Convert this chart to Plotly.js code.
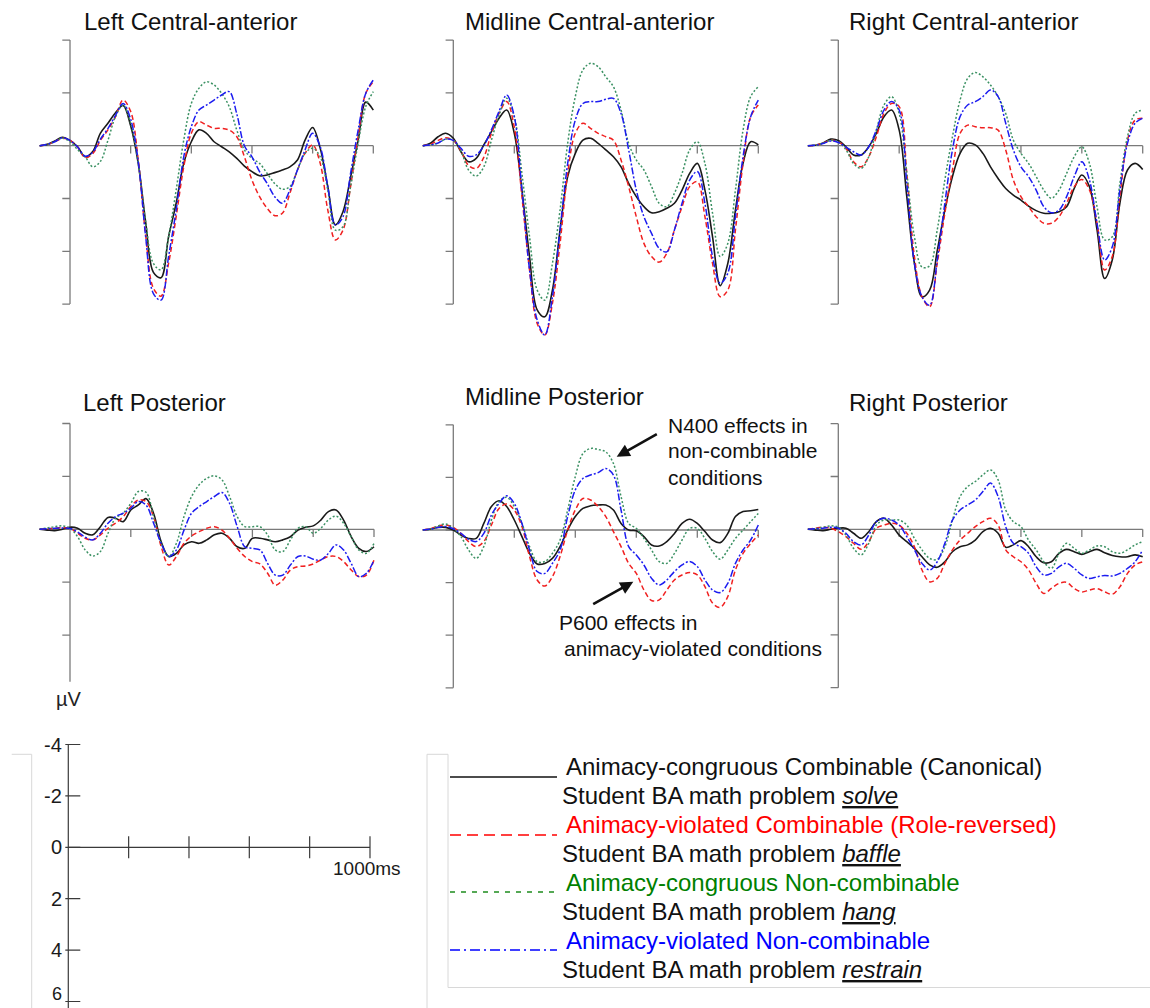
<!DOCTYPE html>
<html><head><meta charset="utf-8">
<script src="https://cdn.plot.ly/plotly-3.0.1.min.js"></script>
<style>html,body{margin:0;padding:0;background:#fff;} #chart{width:1150px;height:1008px;}</style>
</head><body><div id="chart"></div>
<script>
// ---------------- DATA ----------------
const times = [-100,-75,-50,-25,0,25,50,75,100,125,150,175,200,225,250,275,300,325,350,375,400,425,450,475,500,525,550,575,600,625,650,675,700,725,750,775,800,825,850,875,900,925,950,975,1000];

const conditionNames = ['Animacy-congruous Combinable (Canonical)','Animacy-violated Combinable (Role-reversed)','Animacy-congruous Non-combinable','Animacy-violated Non-combinable'];
const exampleSentences = ['Student BA math problem ','Student BA math problem ','Student BA math problem ','Student BA math problem '];
const exampleVerbs = ['solve','baffle','hang','restrain'];
const panelTitles = ['Left Central-anterior','Midline Central-anterior','Right Central-anterior','Left Posterior','Midline Posterior','Right Posterior'];
const yTickVals = [-4,-2,0,2,4,6];
const xTickVals = [200,400,600,800,1000];
const scaleTickLabels = ['-4','-2','0','2','4','6'];
const scaleTimeLabel = '1000ms';
const unitLabel = 'µV';

// Left Central-anterior
const lcaCanonical   = [0,-0.05,-0.18,-0.32,-0.2,0.04,0.42,0.22,-0.47,-0.85,-1.25,-1.52,-0.75,0.67,2.94,4.8,5.0,3.45,2.18,0.67,-0.15,-0.6,-0.47,-0.15,0.04,0.23,0.48,0.77,0.98,1.14,1.11,1.02,0.92,0.8,0.54,-0.21,-0.69,0.1,1.55,3.0,2.5,1.2,-0.2,-1.65,-1.35];
const lcaRoleRev     = [0,-0.05,-0.15,-0.28,-0.2,0.05,0.45,0.3,-0.2,-0.6,-1.1,-1.73,-1.3,0.54,3.45,5.4,5.7,4.46,2.69,0.8,-0.47,-0.91,-0.78,-0.66,-0.66,-0.59,-0.34,0.42,1.3,1.93,2.37,2.65,2.56,1.8,0.92,0.29,-0.03,0.67,2.44,3.57,3.2,1.55,-0.34,-1.98,-2.42];
const lcaNonCombCong = [0,-0.05,-0.15,-0.28,-0.15,0.15,0.42,0.8,0.6,-0.2,-1.1,-1.54,-0.85,0.67,2.94,4.46,4.7,3.45,1.68,-0.21,-1.6,-2.17,-2.42,-2.3,-1.98,-1.48,-0.59,0.16,0.48,0.67,1.05,1.43,1.65,1.55,0.92,0.29,0.1,0.42,1.68,3.2,3.07,1.55,-0.09,-1.48,-2.05];
const lcaNonCombViol = [0,-0.05,-0.15,-0.3,-0.2,0.05,0.4,0.25,-0.25,-0.65,-1.15,-1.6,-1.0,0.6,3.5,5.6,5.85,4.2,2.44,0.42,-0.72,-1.35,-1.54,-1.73,-1.92,-2.05,-1.2,0.0,0.42,0.98,1.43,1.93,2.18,1.68,0.92,0.16,-0.47,0.04,1.56,3.0,2.69,1.05,-0.59,-1.98,-2.49];

// Midline Central-anterior
const mcaCanonical   = [0,-0.09,-0.34,-0.47,-0.28,0.23,0.61,0.48,-0.03,-0.53,-1.04,-1.35,-0.47,1.68,4.2,6.22,6.48,5.47,3.19,1.17,0.29,-0.21,-0.28,-0.09,0.16,0.42,0.8,1.43,1.93,2.31,2.54,2.5,2.37,2.18,1.68,1.05,0.67,1.68,3.45,5.3,4.46,2.44,0.67,-0.15,-0.03];
const mcaRoleRev     = [0,-0.05,-0.2,-0.3,-0.2,0.2,0.75,0.86,0.44,-0.47,-1.22,-1.67,-0.7,1.93,4.71,6.73,7.17,5.97,3.7,1.05,-0.47,-0.85,-0.66,-0.47,-0.34,-0.21,0.54,1.55,2.69,3.7,4.2,4.41,4.08,3.19,2.31,1.55,1.36,2.69,4.46,5.72,5.47,3.19,0.67,-1.1,-1.54];
const mcaNonCombCong = [0,-0.03,-0.1,-0.25,-0.2,0.2,0.92,1.15,0.8,-0.21,-1.16,-1.8,-1.1,1.05,3.45,5.47,5.85,4.46,2.44,-0.09,-1.86,-2.87,-3.12,-2.99,-2.61,-2.23,-1.35,-0.09,0.54,0.92,1.55,2.18,2.31,1.8,1.05,0.16,-0.15,0.67,2.56,4.2,3.7,1.68,-0.59,-1.86,-2.23];
const mcaNonCombViol = [0,-0.03,-0.1,-0.25,-0.2,0.1,0.4,0.35,0.0,-0.6,-1.3,-1.92,-1.1,1.68,4.71,6.6,7.17,5.72,3.19,0.67,-0.97,-1.6,-1.67,-1.67,-1.76,-1.79,-1.22,0.16,1.68,2.69,3.32,3.89,4.02,3.19,2.18,1.3,0.98,2.18,4.2,5.21,4.83,2.69,0.42,-1.1,-1.73];

// Right Central-anterior
const rcaCanonical   = [0,-0.02,-0.1,-0.25,-0.2,0.04,0.35,0.35,0.04,-0.47,-1.1,-1.35,-0.59,1.93,4.46,5.72,5.47,3.98,2.44,1.17,0.29,-0.09,-0.03,0.29,0.8,1.24,1.62,1.87,2.06,2.29,2.46,2.56,2.56,2.5,2.31,1.62,1.11,1.55,3.19,5.03,4.33,2.18,0.92,0.67,0.9];
const rcaRoleRev     = [0,-0.02,-0.1,-0.2,-0.15,0.1,0.61,0.8,0.42,-0.34,-1.22,-1.6,-1.48,1.05,4.2,5.72,6.1,4.46,2.56,0.92,-0.47,-0.78,-0.72,-0.68,-0.68,-0.59,0.16,1.3,1.93,2.31,2.69,2.94,2.94,2.69,2.18,1.55,1.28,1.68,2.94,4.71,4.2,1.93,-0.21,-0.97,-1.04];
const rcaNonCombCong = [0,-0.02,-0.1,-0.2,-0.15,0.15,0.67,0.86,0.42,-0.59,-1.54,-1.86,-1.22,1.05,3.45,4.6,4.55,3.19,1.3,-0.34,-1.73,-2.55,-2.77,-2.61,-2.3,-1.86,-1.22,-0.21,0.29,0.67,1.17,1.68,1.99,1.68,1.05,0.42,0.04,0.67,2.31,3.57,3.45,1.43,-0.34,-1.22,-1.35];
const rcaNonCombViol = [0,-0.02,-0.08,-0.18,-0.12,0.05,0.23,0.35,0.04,-0.59,-1.35,-1.67,-1.35,1.43,4.46,5.72,6.04,4.33,2.18,0.16,-1.1,-1.54,-1.67,-1.86,-2.11,-1.86,-0.85,0.16,0.8,1.17,1.68,2.31,2.54,2.44,1.93,1.17,0.61,1.3,2.94,4.33,3.83,1.68,-0.09,-0.85,-1.04];

// Left Posterior
const lpCanonical   = [0,0.03,0.05,0,-0.08,-0.04,0.15,0.21,-0.1,-0.45,-0.42,-0.29,-0.73,-0.92,-1.16,-0.6,0.47,1.03,0.91,0.59,0.47,0.53,0.4,0.21,0.15,0.34,0.66,0.72,0.34,0.34,0.4,0.47,0.4,0.28,0.03,-0.08,-0.13,-0.35,-0.67,-0.73,-0.35,0.28,0.72,0.84,0.66];
const lpRoleRev     = [0,-0.02,-0.04,-0.06,-0.04,0.15,0.34,0.4,0.21,-0.04,-0.23,-0.48,-0.86,-1.11,-1.05,-0.48,0.66,1.35,1.03,0.53,0.25,0.09,-0.04,-0.1,0.03,0.34,0.72,1.03,1.22,1.31,1.66,2.11,1.92,1.54,1.41,1.39,1.31,1.16,1.03,1.03,1.22,1.54,1.79,1.73,1.16];
const lpNonCombCong = [0,-0.05,-0.1,-0.13,-0.04,0.28,0.78,1.01,0.84,0.15,-0.42,-0.61,-0.98,-1.43,-1.4,-0.48,0.53,1.03,0.53,-0.48,-1.24,-1.68,-1.93,-2.02,-1.87,-1.24,-0.48,-0.1,-0.1,-0.1,0.21,0.78,0.84,0.4,-0.04,-0.1,0.15,-0.04,-0.35,-0.5,-0.23,0.28,0.78,0.91,0.53];
const lpNonCombViol = [0,-0.02,-0.04,-0.05,-0.03,0.1,0.3,0.4,0.15,-0.23,-0.48,-0.61,-0.79,-1.05,-0.92,-0.23,0.53,1.03,0.78,0.03,-0.61,-0.86,-1.05,-1.24,-1.39,-0.98,-0.1,0.66,0.72,0.78,1.29,1.73,1.73,1.35,1.03,1.01,1.13,1.16,0.91,0.59,0.78,1.29,1.79,1.66,1.16];

// Midline Posterior
const mpCanonical   = [0,-0.04,-0.1,-0.1,0,0.19,0.32,0.32,-0.25,-0.89,-1.11,-0.89,-0.38,0.25,0.89,1.29,1.27,1.08,0.63,0,-0.51,-0.82,-0.92,-0.95,-0.95,-0.76,-0.25,0,0.03,0.25,0.57,0.61,0.44,0.13,-0.25,-0.41,-0.25,0.06,0.38,0.48,0.13,-0.51,-0.7,-0.73,-0.78];
const mpRoleRev     = [0,-0.05,-0.15,-0.19,-0.1,0.13,0.44,0.63,0.44,-0.19,-0.82,-0.99,-0.76,-0.13,1.01,1.9,2.13,1.77,1.01,0,-0.76,-1.2,-1.14,-0.89,-0.51,0.06,0.63,1.27,1.65,2.28,2.68,2.66,2.28,1.9,1.71,1.62,1.71,2.15,2.78,2.94,2.53,1.52,0.89,0.51,0.19];
const mpNonCombCong = [0,-0.03,-0.15,-0.23,-0.06,0.25,0.76,1.08,0.63,-0.38,-1.08,-1.24,-0.89,-0.25,0.63,1.2,1.2,0.89,0.38,-0.76,-2.03,-2.91,-3.1,-3.06,-2.97,-2.53,-1.27,-0.25,-0.06,0.32,0.76,1.2,1.27,0.89,0.38,-0.06,-0.06,0.32,0.82,1.11,0.76,0.32,0,-0.32,-0.63];
const mpNonCombViol = [0,-0.03,-0.1,-0.13,-0.05,0.13,0.35,0.44,0.13,-0.57,-1.01,-1.3,-1.01,-0.25,0.76,1.58,1.65,1.27,0.76,-0.51,-1.52,-1.96,-2.09,-2.18,-2.34,-2.09,-0.76,0.63,0.95,1.33,1.84,2.09,1.9,1.58,1.33,1.2,1.39,1.9,2.28,2.38,2.03,1.27,0.76,0.38,-0.19];

// Right Posterior
const rpCanonical   = [0,0.03,0.05,0,-0.04,-0.04,0.15,0.34,0.09,-0.29,-0.42,-0.16,0.22,0.47,0.72,1.04,1.35,1.44,1.23,0.85,0.66,0.59,0.41,0.09,-0.04,0.15,0.68,0.59,0.43,0.66,1.04,1.27,1.23,0.91,0.76,0.85,0.95,0.85,0.76,0.89,0.99,1.04,1.04,0.97,1.04];
const rpRoleRev     = [0,-0.04,-0.08,-0.04,0.09,0.28,0.53,0.76,0.47,-0.04,-0.16,-0.23,-0.16,0.15,0.66,1.54,1.99,1.86,1.29,0.78,0.41,0.15,-0.1,-0.29,-0.42,-0.16,0.78,1.04,1.23,1.54,2.05,2.43,2.24,2.05,2.01,2.24,2.37,2.3,2.25,2.37,2.46,2.18,1.67,1.35,1.23];
const rpNonCombCong = [0,-0.03,-0.08,-0.13,-0.08,0.22,0.72,0.97,0.53,-0.16,-0.35,-0.35,-0.35,-0.16,0.34,0.78,1.1,1.14,0.66,-0.35,-1.24,-1.62,-1.81,-2.06,-2.25,-1.87,-0.73,-0.29,-0.1,0.41,0.78,1.23,1.48,0.91,0.53,0.72,0.91,0.78,0.63,0.66,0.85,0.91,0.78,0.59,0.47];
const rpNonCombViol = [0,-0.02,-0.04,-0.08,-0.04,0.15,0.47,0.59,0.22,-0.29,-0.42,-0.35,-0.16,0.28,0.78,1.29,1.54,1.23,0.53,-0.35,-0.73,-0.92,-1.11,-1.43,-1.75,-1.24,-0.1,0.53,0.66,0.91,1.42,1.73,1.67,1.42,1.29,1.48,1.73,1.86,1.8,1.75,1.77,1.67,1.48,1.23,0.78];

// ---------------- LAYOUT / STYLE ----------------
const W = 1150, H = 1008;
const FONT = 'Liberation Sans, Arial, Helvetica, sans-serif';
const seriesStyles = [
  {color:'#1a1a1a', dash:'solid', width:1.6},
  {color:'#f02020', dash:'5px,3px', width:1.5},
  {color:'#3b9163', dash:'2px,2px', width:1.5},
  {color:'#1c1cf0', dash:'7px,2px,2px,2px', width:1.5}
];
const legendTextColors = ['#111111','#ff0000','#008000','#0000ff'];

const panels = [
  {title:panelTitles[0], series:[lcaCanonical,lcaRoleRev,lcaNonCombCong,lcaNonCombViol], X0:70,    sx:0.3033, Y0:145.7, sy:26.4,  yr:[-4.5,8],   axBottom:6,   ticks:[-4,-2,0,2,4,6], tx:81.5, ty:21},
  {title:panelTitles[1], series:[mcaCanonical,mcaRoleRev,mcaNonCombCong,mcaNonCombViol], X0:453.3, sx:0.305,  Y0:145.7, sy:26.4,  yr:[-4.5,8],   axBottom:6,   ticks:[-4,-2,0,2,4,6], tx:462.5, ty:21},
  {title:panelTitles[2], series:[rcaCanonical,rcaRoleRev,rcaNonCombCong,rcaNonCombViol], X0:838.3, sx:0.3044, Y0:145.7, sy:26.4,  yr:[-4.5,8],   axBottom:6,   ticks:[-4,-2,0,2,4,6], tx:847, ty:21},
  {title:panelTitles[3], series:[lpCanonical,lpRoleRev,lpNonCombCong,lpNonCombViol],     X0:70,    sx:0.304,  Y0:529.3, sy:26.45, yr:[-4.5,6.5], axBottom:5.76,ticks:[-4,-2,0,2,4],   tx:81, ty:402},
  {title:panelTitles[4], series:[mpCanonical,mpRoleRev,mpNonCombCong,mpNonCombViol],     X0:453.3, sx:0.305,  Y0:530,   sy:26.3,  yr:[-4.5,6.5], axBottom:6,   ticks:[-4,-2,0,2,4,6], tx:463, ty:397},
  {title:panelTitles[5], series:[rpCanonical,rpRoleRev,rpNonCombCong,rpNonCombViol],     X0:838.3, sx:0.3044, Y0:529.3, sy:26.4,  yr:[-4.5,6.5], axBottom:6,   ticks:[-4,-2,0,2,4,6], tx:847, ty:402}
];
const XR = [-108, 1006];
const px = x => x / W;
const py = y => 1 - y / H;

const data = [];
const layout = {
  width: W, height: H, margin:{l:0,r:0,t:0,b:0},
  paper_bgcolor:'#ffffff', plot_bgcolor:'rgba(0,0,0,0)',
  showlegend:false, font:{family:FONT, color:'#111'},
  shapes:[], annotations:[]
};
const AXC = '#7a7a7a';

panels.forEach((p, i) => {
  const n = i + 1;
  const xa = 'x' + n, ya = 'y' + n;
  const xk = 'xaxis' + (n === 1 ? '' : n), yk = 'yaxis' + (n === 1 ? '' : n);
  layout[xk] = {domain:[px(p.X0 + XR[0]*p.sx), px(p.X0 + XR[1]*p.sx)], range:XR, visible:false, anchor:ya, fixedrange:true};
  layout[yk] = {domain:[py(p.Y0 + p.yr[1]*p.sy), py(p.Y0 + p.yr[0]*p.sy)], range:[p.yr[1], p.yr[0]], visible:false, anchor:xa, fixedrange:true};
  layout.shapes.push({type:'line', xref:xa, yref:ya, x0:times[0], x1:times[times.length-1], y0:0, y1:0, line:{color:AXC, width:1.3}, layer:'below'});
  layout.shapes.push({type:'line', xref:xa, yref:ya, x0:0, x1:0, y0:-4, y1:p.axBottom, line:{color:AXC, width:1.3}, layer:'below'});
  p.ticks.forEach(v => layout.shapes.push({type:'line', xref:xa, yref:ya, x0:-7.7/p.sx, x1:0, y0:v, y1:v, line:{color:AXC, width:1.3}, layer:'below'}));
  xTickVals.forEach(t => layout.shapes.push({type:'line', xref:xa, yref:ya, x0:t, x1:t, y0:0, y1:7.7/p.sy, line:{color:AXC, width:1.3}, layer:'below'}));
  p.series.forEach((vals, k) => {
    const st = seriesStyles[k];
    data.push({type:'scatter', mode:'lines', x:times, y:vals, xaxis:xa, yaxis:ya, name:conditionNames[k],
      line:{color:st.color, dash:st.dash, width:st.width, shape:'spline', smoothing:1}, hoverinfo:'skip'});
  });
  layout.annotations.push({xref:'paper', yref:'paper', x:px(p.tx), y:py(p.ty), xanchor:'left', yanchor:'middle', showarrow:false,
    text:p.title, font:{size:24, color:'#111', family:FONT}});
});

// Scale panel
const sc = {X0:68.3, sx:0.3017, Y0:847.3, sy:25.7};
const scYR = [-5, (H - sc.Y0)/sc.sy];
layout.xaxis7 = {domain:[px(sc.X0 + XR[0]*sc.sx), px(sc.X0 + XR[1]*sc.sx)], range:XR, visible:false, anchor:'y7', fixedrange:true};
layout.yaxis7 = {domain:[0, py(sc.Y0 + scYR[0]*sc.sy)], range:[scYR[1], scYR[0]], visible:false, anchor:'x7', fixedrange:true};
data.push({type:'scatter', mode:'lines', x:[0,1000], y:[0,0], xaxis:'x7', yaxis:'y7', line:{color:'#3a3a3a', width:1.2}, hoverinfo:'skip'});
const SCC = '#3a3a3a';
layout.shapes.push({type:'line', xref:'x7', yref:'y7', x0:0, x1:0, y0:-4, y1:scYR[1], line:{color:SCC, width:1.2}});
yTickVals.forEach((v, k) => {
  const last = (k === yTickVals.length - 1);
  layout.shapes.push({type:'line', xref:'x7', yref:'y7', x0:-3/sc.sx, x1:12/sc.sx, y0:v, y1:v, line:{color:SCC, width:1.2}});
  layout.annotations.push({xref:'x7', yref:'y7', x:-4.5/sc.sx, y:v, xanchor:'right', yanchor:last ? 'bottom' : 'middle', showarrow:false,
    yshift:last ? -4 : 0,
    text:scaleTickLabels[k], font:{size:last ? 18 : 20, color:'#1a1a1a', family:FONT}});
});
xTickVals.forEach(t => layout.shapes.push({type:'line', xref:'x7', yref:'y7', x0:t, x1:t, y0:-11/sc.sy, y1:11/sc.sy, line:{color:SCC, width:1.2}}));
layout.annotations.push({xref:'x7', yref:'y7', x:(366.7-sc.X0)/sc.sx, y:(868.5-sc.Y0)/sc.sy, xanchor:'center', yanchor:'middle', showarrow:false,
  text:scaleTimeLabel, font:{size:19, color:'#1a1a1a', family:FONT}});

// unit label
layout.annotations.push({xref:'paper', yref:'paper', x:px(54), y:py(699), xanchor:'left', yanchor:'middle', showarrow:false, text:unitLabel, font:{size:20, color:'#222', family:FONT}});

// faint frame fragments
const FR = '#d8d8d8';
[[11.7,754.3,31.7,754.3],[31.7,754.3,31.7,1008],[427,754.3,448,754.3],[427,754.3,427,1008],[448,754.3,448,987.5],[448,987.5,1150,987.5]]
  .forEach(s => layout.shapes.push({type:'line', xref:'paper', yref:'paper', x0:px(s[0]), y0:py(s[1]), x1:px(s[2]), y1:py(s[3]), line:{color:FR, width:1}}));

// effect annotations
const annoFont = {size:21, color:'#111', family:FONT};
[['N400 effects in',666,425],['non-combinable',666,451],['conditions',666,477],['P600 effects in',557,622],['animacy-violated conditions',561.5,648]]
  .forEach(a => layout.annotations.push({xref:'paper', yref:'paper', x:px(a[1]), y:py(a[2]), xanchor:'left', yanchor:'middle', showarrow:false, text:a[0], font:annoFont}));
[[616.7,456.7,658.3,433.3],[633.3,581.7,591.7,605]].forEach(a => layout.annotations.push({
  xref:'paper', yref:'paper', x:px(a[0]), y:py(a[1]), axref:'pixel', ayref:'pixel', ax:a[2]-a[0], ay:a[3]-a[1],
  text:'', showarrow:true, arrowhead:2, arrowsize:1, arrowwidth:2.6, arrowcolor:'#111', standoff:0, startstandoff:0}));

// legend
const legendY = [766, 824, 882, 940];
const legendLineY = [777, 835, 892, 950];
const legendDash = ['solid','11px,6px','5px,6px','10px,4px,2px,4px'];
const legendLineColors = ['#111111','#ff0000','#1e8c1e','#0000ff'];
conditionNames.forEach((name, k) => {
  layout.shapes.push({type:'line', xref:'paper', yref:'paper', x0:px(450), x1:px(557), y0:py(legendLineY[k]), y1:py(legendLineY[k]),
    line:{color:legendLineColors[k], width:1.6, dash:legendDash[k]}});
  layout.annotations.push({xref:'paper', yref:'paper', x:px(564), y:py(legendY[k]), xanchor:'left', yanchor:'middle', showarrow:false,
    text:name, font:{size:24, color:legendTextColors[k], family:FONT}});
  layout.annotations.push({xref:'paper', yref:'paper', x:px(560), y:py(legendY[k]+29), xanchor:'left', yanchor:'middle', showarrow:false,
    text:exampleSentences[k] + '<i><span style="text-decoration:underline">' + exampleVerbs[k] + '</span></i>', font:{size:24, color:'#111', family:FONT}});
});

Plotly.newPlot('chart', data, layout, {staticPlot:true, displayModeBar:false});
</script>
</body></html>
